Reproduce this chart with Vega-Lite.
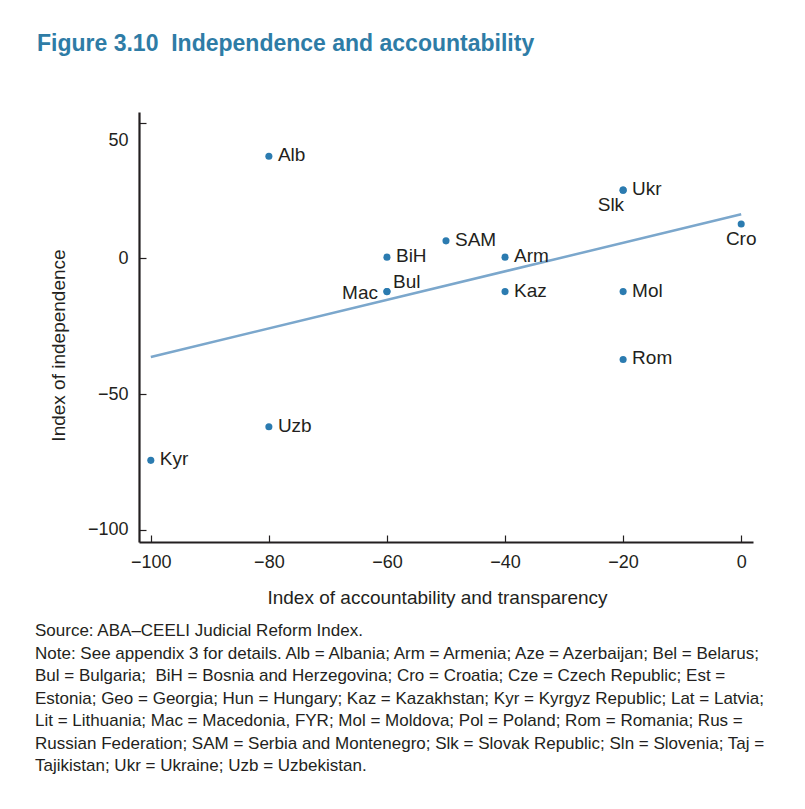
{
  "$schema": "https://vega.github.io/schema/vega-lite/v6.json",
  "background": "white",
  "autosize": {"type": "pad"},
  "padding": {"left": 35, "top": 33, "right": 0, "bottom": 0},
  "config": {
    "font": "Liberation Sans",
    "view": {"stroke": null},
    "axis": {"grid": false}
  },
  "title": {
    "text": "Figure 3.10\u00a0 Independence and accountability",
    "anchor": "start",
    "frame": "group",
    "dx": -102,
    "fontSize": 23,
    "fontWeight": "bold",
    "color": "#2e7ca6",
    "font": "Liberation Sans",
    "offset": 56
  },
  "spacing": 0,
  "vconcat": [
    {
      "width": 614,
      "height": 430,
      "title": {
        "text": [
          "Source: ABA–CEELI Judicial Reform Index.",
          "Note: See appendix 3 for details. Alb = Albania; Arm = Armenia; Aze = Azerbaijan; Bel = Belarus;",
          "Bul = Bulgaria;\u00a0 BiH = Bosnia and Herzegovina; Cro = Croatia; Cze = Czech Republic; Est =",
          "Estonia; Geo = Georgia; Hun = Hungary; Kaz = Kazakhstan; Kyr = Kyrgyz Republic; Lat = Latvia;",
          "Lit = Lithuania; Mac = Macedonia, FYR; Mol = Moldova; Pol = Poland; Rom = Romania; Rus =",
          "Russian Federation; SAM = Serbia and Montenegro; Slk = Slovak Republic; Sln = Slovenia; Taj =",
          "Tajikistan; Ukr = Ukraine; Uzb = Uzbekistan."
        ],
        "orient": "bottom",
        "anchor": "start",
        "frame": "group",
        "dx": -104,
        "fontSize": 17,
        "fontWeight": "normal",
        "lineHeight": 22.5,
        "color": "#231f20",
        "font": "Liberation Sans",
        "offset": 16
      },
      "data": {
        "values": [
          {"label": "Alb", "x": -80, "y": 37.7},
          {"label": "Kyr", "x": -100, "y": -74.4},
          {"label": "Uzb", "x": -80, "y": -62},
          {"label": "BiH", "x": -60, "y": 0.5},
          {"label": "SAM", "x": -50, "y": 6.5},
          {"label": "Arm", "x": -40, "y": 0.5},
          {"label": "Mac", "x": -60, "y": -12.2},
          {"label": "Bul", "x": -60, "y": -12.2},
          {"label": "Kaz", "x": -40, "y": -12.2},
          {"label": "Ukr", "x": -20, "y": 25.2},
          {"label": "Slk", "x": -20, "y": 25.2},
          {"label": "Cro", "x": 0, "y": 12.7},
          {"label": "Mol", "x": -20, "y": -12.2},
          {"label": "Rom", "x": -20, "y": -37.2}
        ]
      },
      "encoding": {
        "x": {
          "field": "x",
          "type": "quantitative",
          "scale": {"domain": [-102, 2], "nice": false, "zero": false},
          "axis": {
            "values": [-100, -80, -60, -40, -20, 0],
            "title": "Index of accountability and transparency",
            "titleFontSize": 19,
            "titleFontWeight": "normal",
            "titleColor": "#231f20",
            "titlePadding": 17,
            "titleX": 298,
            "labelFontSize": 18,
            "labelColor": "#231f20",
            "labelPadding": 18,
            "tickSize": -7,
            "tickColor": "#231f20",
            "tickWidth": 1.2,
            "domainColor": "#231f20",
            "domainWidth": 2.2
          }
        },
        "y": {
          "field": "y",
          "type": "quantitative",
          "scale": {"domain": [-104.5, 54], "nice": false, "zero": false},
          "axis": {
            "values": [-100, -50, 0, 50],
            "title": "Index of independence",
            "titleFontSize": 19,
            "titleFontWeight": "normal",
            "titleColor": "#231f20",
            "titlePadding": 19,
            "titleY": 233,
            "labelFontSize": 18,
            "labelColor": "#231f20",
            "labelPadding": 18,
            "labelOffset": {"condition": {"test": "datum.value === 50", "value": 18}, "value": 0},
            "tickSize": -7,
            "tickColor": "#231f20",
            "tickWidth": 1.2,
            "domainColor": "#231f20",
            "domainWidth": 2.2
          }
        }
      },
      "layer": [
        {
          "data": {"values": [{"x": -100, "y": -36.3}, {"x": 0, "y": 16.3}]},
          "mark": {"type": "line", "color": "#7ba7cc", "strokeWidth": 2.5},
          "encoding": {}
        },
        {
          "mark": {"type": "circle", "size": 50, "color": "#2b7bb0", "opacity": 1}
        },
        {
          "transform": [{"filter": {"not": {"field": "label", "oneOf": ["Mac", "Bul", "Slk", "Cro"]}}}],
          "mark": {"type": "text", "align": "left", "baseline": "middle", "dx": 9, "dy": -1, "fontSize": 19, "color": "#231f20"},
          "encoding": {"text": {"field": "label"}}
        },
        {
          "transform": [{"filter": {"field": "label", "equal": "Mac"}}],
          "mark": {"type": "text", "align": "right", "baseline": "middle", "dx": -9, "dy": 1, "fontSize": 19, "color": "#231f20"},
          "encoding": {"text": {"field": "label"}}
        },
        {
          "transform": [{"filter": {"field": "label", "equal": "Bul"}}],
          "mark": {"type": "text", "align": "left", "baseline": "middle", "dx": 6, "dy": -10, "fontSize": 19, "color": "#231f20"},
          "encoding": {"text": {"field": "label"}}
        },
        {
          "transform": [{"filter": {"field": "label", "equal": "Slk"}}],
          "mark": {"type": "text", "align": "right", "baseline": "middle", "dx": 1, "dy": 15, "fontSize": 19, "color": "#231f20"},
          "encoding": {"text": {"field": "label"}}
        },
        {
          "transform": [{"filter": {"field": "label", "equal": "Cro"}}],
          "mark": {"type": "text", "align": "center", "baseline": "middle", "dx": 0, "dy": 15, "fontSize": 19, "color": "#231f20"},
          "encoding": {"text": {"field": "label"}}
        }
      ]
    }
  ]
}
